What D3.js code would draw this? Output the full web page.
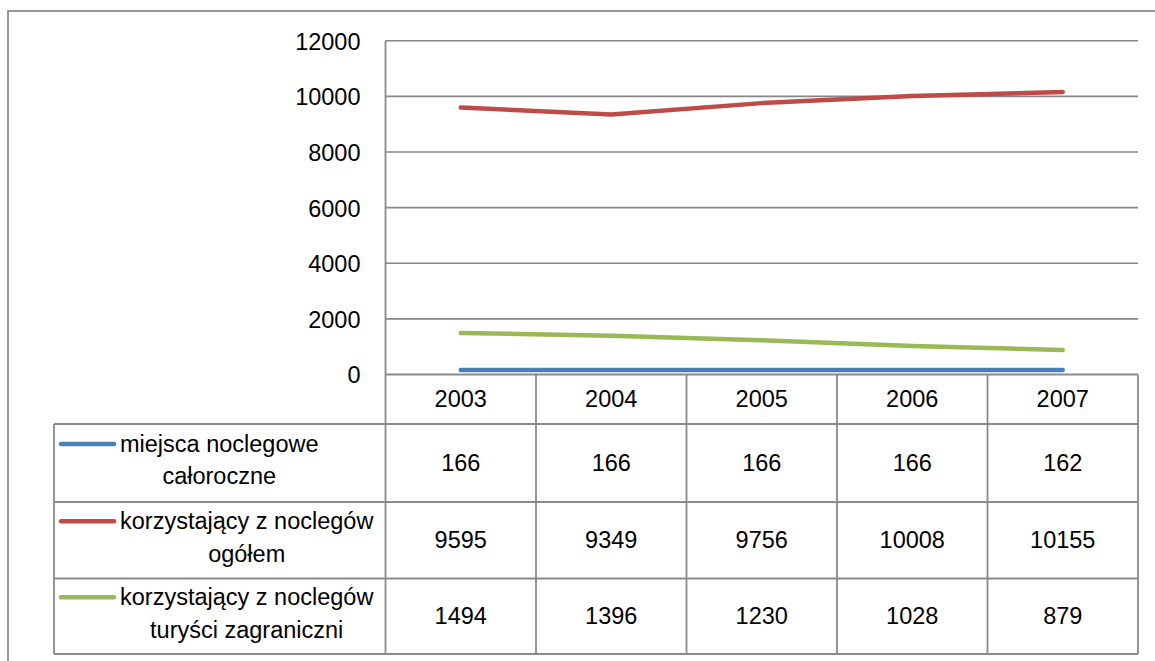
<!DOCTYPE html>
<html><head><meta charset="utf-8">
<script src="https://cdn.jsdelivr.net/npm/d3@7"></script>
<style>
html,body{margin:0;padding:0;background:#fff;}
svg{display:block;font-family:"Liberation Sans",Arial,sans-serif;}
</style></head>
<body><svg id="c" width="1155" height="661"></svg>
<script>
const years = ["2003","2004","2005","2006","2007"];
const seriesNames = [
  ["miejsca noclegowe","całoroczne"],
  ["korzystający z noclegów","ogółem"],
  ["korzystający z noclegów","turyści zagraniczni"]
];
const seriesColors = ["#4A7EBB","#BE4B48","#98B954"];
const miejsca = [166,166,166,166,162];
const ogolem = [9595,9349,9756,10008,10155];
const zagraniczni = [1494,1396,1230,1028,879];
const yTicks = [0,2000,4000,6000,8000,10000,12000];
const seriesValues = [miejsca, ogolem, zagraniczni];

const svg = d3.select("#c");
const fs = 23.5;
const gridColor = "#878787";
const tableColor = "#8a8a8a";

// outer chart border
svg.append("rect").attr("x",8).attr("y",11).attr("width",1160).attr("height",670)
  .attr("fill","none").attr("stroke","#8a8a8a").attr("stroke-width",1.8);

const x = d3.scaleBand().domain(years).range([385.5,1138]).padding(0);
const y = d3.scaleLinear().domain([0,12000]).range([374.5,40.7]);
const cx = d => x(d) + x.bandwidth()/2;

// gridlines
svg.append("g").selectAll("line").data(yTicks.filter(t=>t>0)).join("line")
  .attr("x1",385.5).attr("x2",1138).attr("y1",d=>y(d)).attr("y2",d=>y(d))
  .attr("stroke",gridColor).attr("stroke-width",1.6);

// y axis labels
const ya = svg.append("g").attr("transform","translate(385.5,0)")
  .call(d3.axisLeft(y).tickValues(yTicks).tickSize(0).tickPadding(25).tickFormat(d3.format("d")));
ya.select(".domain").remove();
ya.selectAll("text").attr("font-size",fs).attr("font-family","Liberation Sans, Arial, sans-serif")
  .attr("fill","#000").attr("dy","0.36em");

// table
const rowTops = [374.5, 424, 502, 578.5, 654];
const tbl = svg.append("g").attr("stroke",tableColor).attr("stroke-width",1.8).attr("fill","none");
// horizontal lines
tbl.append("line").attr("x1",385.5).attr("x2",1138).attr("y1",rowTops[0]).attr("y2",rowTops[0]);
[1,2,3,4].forEach(i=>{
  tbl.append("line").attr("x1",54).attr("x2",1138).attr("y1",rowTops[i]).attr("y2",rowTops[i]);
});
// vertical lines
tbl.append("line").attr("x1",54).attr("x2",54).attr("y1",rowTops[1]).attr("y2",rowTops[4]);
tbl.append("line").attr("x1",385.5).attr("x2",385.5).attr("y1",y(12000)).attr("y2",rowTops[4]);
years.forEach(yr=>{
  const xr = x(yr)+x.bandwidth();
  tbl.append("line").attr("x1",xr).attr("x2",xr).attr("y1",rowTops[0]).attr("y2",rowTops[4]);
});

// header years
svg.append("g").selectAll("text").data(years).join("text")
  .attr("x",d=>cx(d)).attr("y",(rowTops[0]+rowTops[1])/2+8)
  .attr("text-anchor","middle").attr("font-size",fs).text(d=>d);

// value cells and legend
seriesValues.forEach((vals,si)=>{
  const top = rowTops[si+1], bot = rowTops[si+2];
  const mid = (top+bot)/2;
  svg.append("g").selectAll("text").data(vals).join("text")
    .attr("x",(d,i)=>cx(years[i])).attr("y",mid+8)
    .attr("text-anchor","middle").attr("font-size",fs).text(d=>d);
  // legend key
  svg.append("line").attr("x1",61).attr("x2",114).attr("y1",mid-19).attr("y2",mid-19)
    .attr("stroke",seriesColors[si]).attr("stroke-width",4.5).attr("stroke-linecap","round");
  const t1 = svg.append("text").attr("x",120).attr("y",mid-11.5).attr("font-size",fs)
    .text(seriesNames[si][0]);
  const w = t1.node().getComputedTextLength();
  svg.append("text").attr("x",120+w/2).attr("y",mid+21.3).attr("text-anchor","middle")
    .attr("font-size",fs).text(seriesNames[si][1]);
});

// lines
const line = d3.line().x((d,i)=>cx(years[i])).y(d=>y(d));
seriesValues.forEach((vals,si)=>{
  svg.append("path").datum(vals).attr("d",line).attr("fill","none")
    .attr("stroke",seriesColors[si]).attr("stroke-width",4.5)
    .attr("stroke-linecap","round").attr("stroke-linejoin","round");
});
</script></body></html>
